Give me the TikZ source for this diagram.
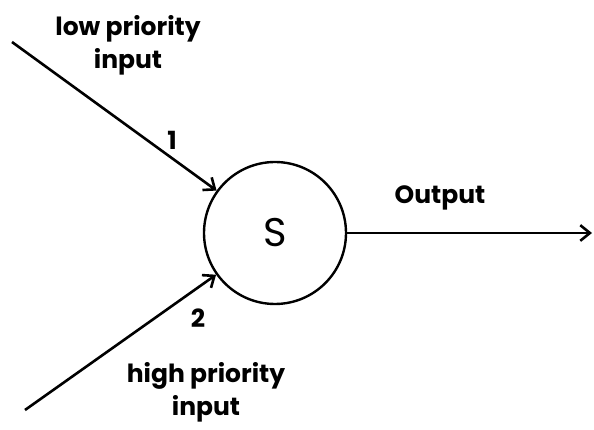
\documentclass[tikz,border=0pt]{standalone}
\usepackage{fontspec}
\setmainfont{Poppins}
\usepackage{tikz}
\usetikzlibrary{arrows.meta, positioning}

\begin{document}
\begin{tikzpicture}[x=1pt, y=-1pt,
    lbl/.style={align=center, font=\fontsize{25}{33}\selectfont\bfseries},
    arr/.style={-{Straight Barb[length=3.4mm, width=5.5mm]}, line width=2.6pt},
    sw/.style={draw, circle, line width=2.4pt, minimum size=142pt, inner sep=0pt, font=\fontsize{40}{44}\selectfont}]
    \useasboundingbox (0,0) rectangle (594,430);
    \node[sw] (s) at (275,233) {S};
    \coordinate (in1) at (12,42);
    \coordinate (in2) at (25,410);
    \coordinate (out) at (592,233);
    \node[lbl] (lowlbl) at (128,45) {low priority\\input};
    \node[lbl] (hilbl) at (206,392) {high priority\\input};
    \node[lbl] (one) at (172,140) {1};
    \node[lbl] (two) at (198,318) {2};
    \node[lbl] (outlbl) at (440,198) {Output};
    \draw[arr] (in1) -- (s);
    \draw[arr] (in2) -- (s);
    \draw[arr] (s.east) -- (out);
\end{tikzpicture}
\end{document}
